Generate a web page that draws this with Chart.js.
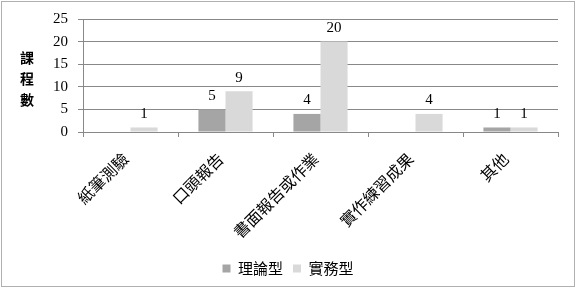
<!DOCTYPE html>
<html><head><meta charset="utf-8">
<script src="https://cdn.jsdelivr.net/npm/chart.js@4/dist/chart.umd.min.js"></script>
<style>html,body{margin:0;padding:0;background:#fff}#wrap{width:576px;height:288px;position:relative}</style>
</head><body><div id="wrap"><canvas id="c" width="576" height="288"></canvas></div>
<script>
const categories = ['紙筆測驗', '口頭報告', '書面報告或作業', '實作練習成果', '其他'];
const theorySeries = [0, 5, 4, 0, 1];
const practiceSeries = [1, 9, 20, 4, 1];
const seriesNames = ['理論型', '實務型'];
const yTitleChars = ['課', '程', '數'];

const serif = '"Liberation Serif", "DejaVu Serif", serif';
const cjk = '"Noto Sans CJK TC", "Noto Sans CJK SC", sans-serif';

const extras = {
  id: 'extras',
  afterDatasetsDraw(chart) {
    const ctx = chart.ctx;
    ctx.save();
    ctx.font = '15px ' + serif;
    ctx.fillStyle = '#000';
    ctx.textAlign = 'center';
    ctx.textBaseline = 'bottom';
    chart.data.datasets.forEach((ds, i) => {
      const meta = chart.getDatasetMeta(i);
      meta.data.forEach((el, j) => {
        const v = ds.data[j];
        if (v > 0) ctx.fillText(String(v), el.x, el.y - 6);
      });
    });
    ctx.restore();
  },
  afterDraw(chart) {
    const ctx = chart.ctx;
    ctx.save();
    ctx.font = 'bold 14px ' + cjk;
    ctx.fillStyle = '#000';
    ctx.textAlign = 'center';
    ctx.textBaseline = 'middle';
    yTitleChars.forEach((ch, i) => ctx.fillText(ch, 27, 58 + i * 21));
    ctx.strokeStyle = '#b0b0b0';
    ctx.lineWidth = 1;
    ctx.strokeRect(1.5, 1.5, 573, 285);
    ctx.restore();
  }
};

new Chart(document.getElementById('c'), {
  type: 'bar',
  data: {
    labels: categories,
    datasets: [
      { label: seriesNames[0], data: theorySeries, backgroundColor: '#a5a5a5' },
      { label: seriesNames[1], data: practiceSeries, backgroundColor: '#d9d9d9' }
    ]
  },
  options: {
    responsive: false,
    animation: false,
    devicePixelRatio: 1,
    categoryPercentage: 0.57,
    barPercentage: 1.0,
    layout: { padding: { left: 18, top: 18, right: 18, bottom: 2 } },
    plugins: {
      legend: {
        position: 'bottom',
        labels: {
          boxWidth: 8, boxHeight: 8, padding: 10,
          font: { family: cjk, size: 15 }, color: '#000'
        }
      },
      tooltip: { enabled: false }
    },
    scales: {
      x: {
        offset: true,
        grid: { offset: true, drawOnChartArea: false, tickLength: 5, color: '#888' },
        border: { color: '#888' },
        ticks: { minRotation: 45, maxRotation: 45, font: { family: cjk, size: 16 }, color: '#000', padding: 12, labelOffset: -5 },
        afterFit(scale) { scale.height = 119; }
      },
      y: {
        min: 0, max: 25,
        ticks: { stepSize: 5, font: { family: serif, size: 15 }, color: '#000', padding: 10 },
        grid: { color: '#888', tickLength: 5 },
        border: { color: '#888' },
        afterFit(scale) { scale.width = 65; }
      }
    }
  },
  plugins: [extras]
});
</script></body></html>
